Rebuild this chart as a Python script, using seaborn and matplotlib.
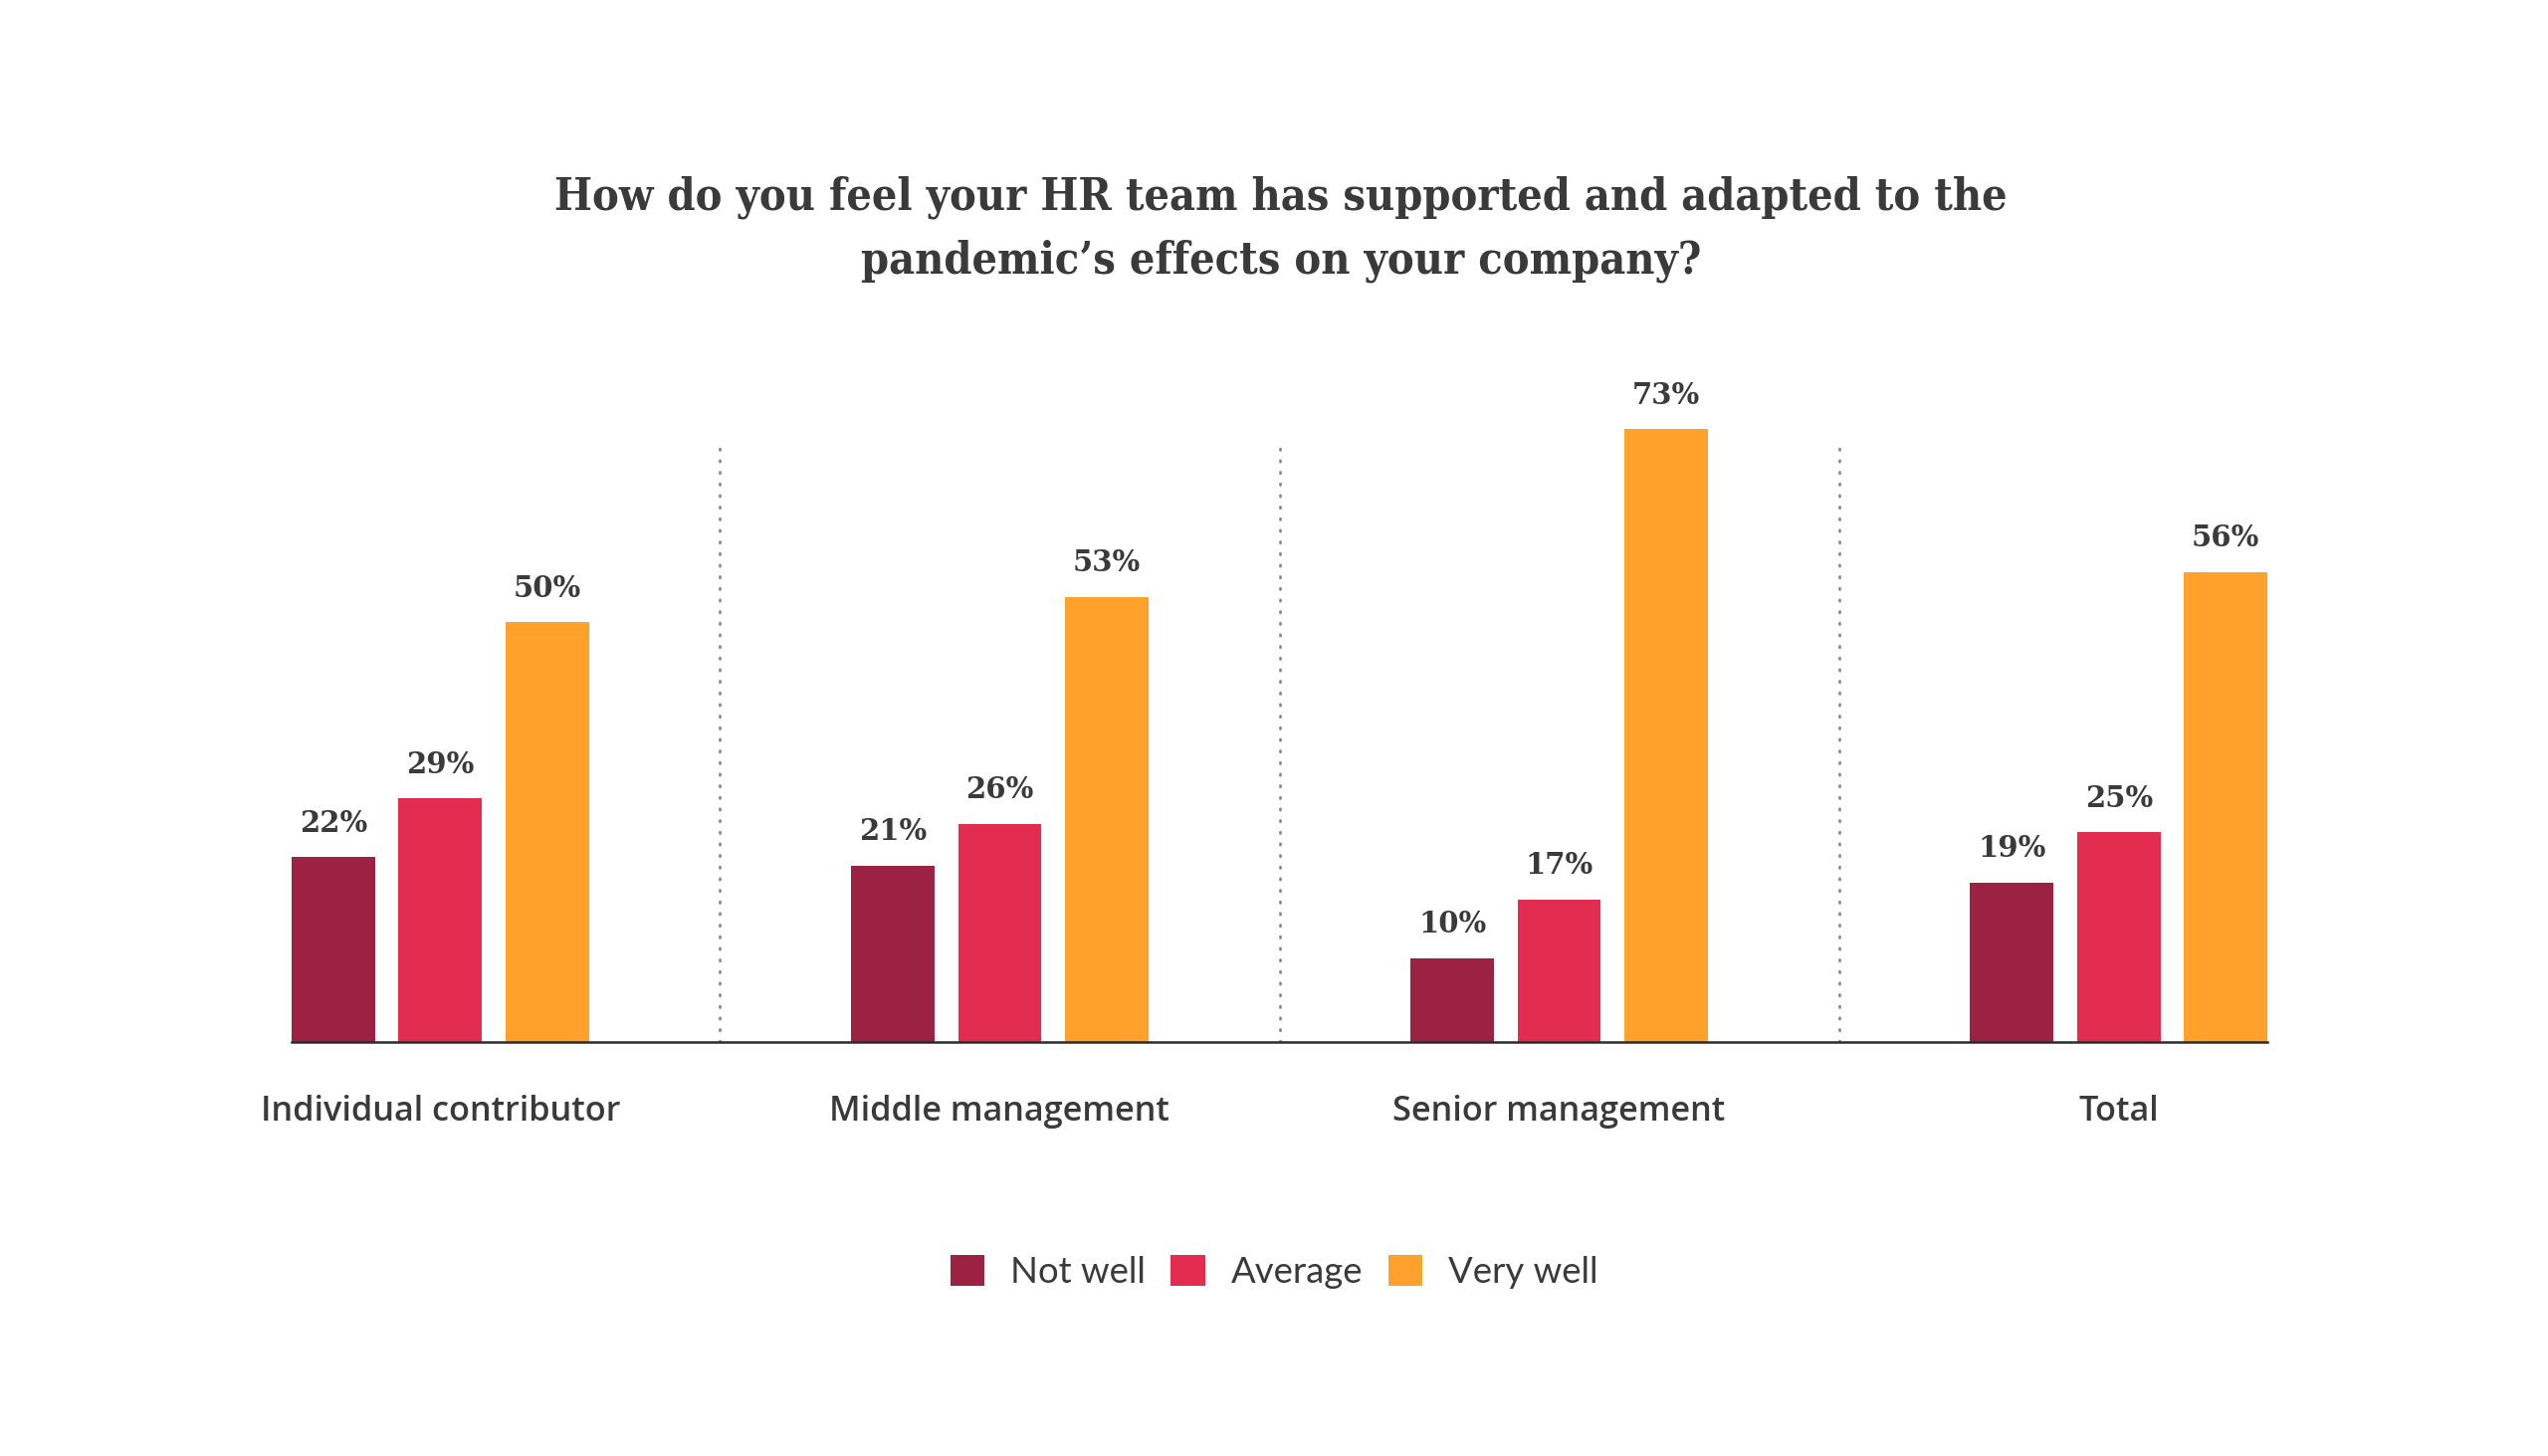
import matplotlib
matplotlib.use("Agg")
import matplotlib.pyplot as plt
import seaborn as sns
import pandas as pd
import numpy as np

categories = ["Individual contributor", "Middle management", "Senior management", "Total"]
levels = ["Not well", "Average", "Very well"]
not_well = [22, 21, 10, 19]
average = [29, 26, 17, 25]
very_well = [50, 53, 73, 56]
colors = ["#9B2242", "#E32D50", "#FFA12B"]
title = "How do you feel your HR team has supported and adapted to the\npandemic\u2019s effects on your company?"

TEXT = "#3a3a3a"

rows = []
for lvl, vals in zip(levels, [not_well, average, very_well]):
    for c, v in zip(categories, vals):
        rows.append({"category": c, "level": lvl, "value": v})
df = pd.DataFrame(rows)

sns.set_theme(style="white")
plt.rcParams["font.family"] = ["Lato", "DejaVu Sans"]

W, H = 2560, 1463
fig = plt.figure(figsize=(W / 100, H / 100), dpi=100)
fig.patch.set_facecolor("white")

left, right = 293, 2278
base, top = 1047, 372
ax = fig.add_axes([left / W, 1 - base / H, (right - left) / W, (base - top) / H])

sns.barplot(data=df, x="category", y="value", hue="level", order=categories,
            hue_order=levels, palette=colors, width=0.5735, gap=0.222,
            saturation=1, ax=ax, legend=True, edgecolor="none")

n = len(categories)
ax.set_xlim(-0.2655, n - 1 + 0.2655)
ax.set_ylim(0, 80)

for cont in ax.containers:
    ax.bar_label(cont, fmt="%d%%", padding=14, fontsize=21, color=TEXT,
                 family="DejaVu Serif", fontweight="bold")

ax.vlines(np.arange(n - 1) + 0.5, 0, 71.8, colors="#8a8a8a",
          linestyles=(0, (0.5, 3.7)), linewidth=2.0, capstyle="round")

for s in ["top", "right", "left"]:
    ax.spines[s].set_visible(False)
ax.spines["bottom"].set_color("#2b2b2b")
ax.spines["bottom"].set_linewidth(1.8)
ax.set_yticks([])
ax.set_xlabel("")
ax.set_ylabel("")
ax.tick_params(axis="x", length=0, pad=38, labelsize=24.7, labelcolor=TEXT)
for lab in ax.get_xticklabels():
    lab.set_family(["Open Sans", "DejaVu Sans"])
    lab.set_fontweight("semibold")

handles, labels = ax.get_legend_handles_labels()
ax.get_legend().remove()
fig.legend(handles, labels, loc="center", bbox_to_anchor=(1280 / W, 1 - 1278 / H),
           ncol=3, frameon=False, fontsize=26.3, labelcolor=TEXT,
           handlelength=0.95, handleheight=0.95, handletextpad=0.7,
           columnspacing=0.7)

fig.text(1287 / W, 1 - 230 / H, title, ha="center", va="center", fontsize=32.2,
         family="DejaVu Serif", fontweight="bold", color=TEXT,
         linespacing=1.6, fontstretch="condensed")

fig.savefig("out.png", dpi=100, facecolor="white")
